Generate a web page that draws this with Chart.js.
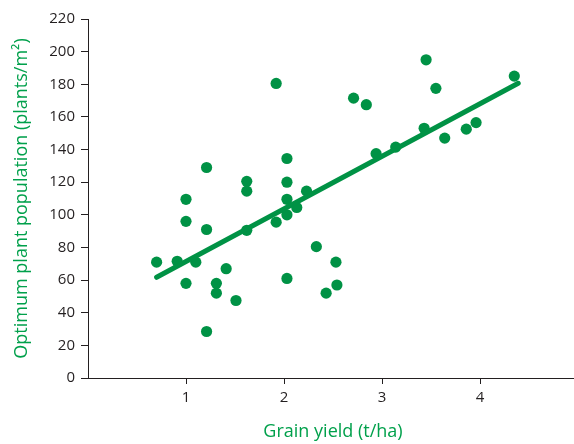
<!DOCTYPE html>
<html>
<head>
<meta charset="utf-8">
<script src="https://cdn.jsdelivr.net/npm/chart.js@4/dist/chart.umd.min.js"></script>
<style>
  html, body { margin: 0; padding: 0; background: #fff; overflow: hidden; }
  #wrap { width: 574px; height: 444px; overflow: hidden; }
</style>
</head>
<body>
<div id="wrap"><canvas id="scatter" width="600" height="444"></canvas></div>
<script>
// grain yield (t/ha) and optimum plant population (plants/m2)
const yieldValues = [0.70, 0.91, 1.10, 1.00, 1.00, 1.00, 1.21, 1.21, 1.41, 1.31,
  1.31, 1.51, 1.21, 1.62, 1.62, 1.62, 1.92, 2.71, 2.03, 2.03,
  2.23, 2.03, 2.13, 2.03, 1.92, 2.33, 2.53, 2.03, 2.54, 2.43,
  2.84, 3.45, 3.55, 4.35, 2.94, 3.14, 3.43, 3.64, 3.86, 3.96];
const populationValues = [71, 71.5, 71, 58, 109.5, 96, 129, 91, 67, 58,
  52, 47.5, 28.5, 120.5, 114.5, 90.5, 180.5, 171.5, 134.5, 120,
  114.5, 109.5, 104.5, 100, 95.5, 80.5, 71, 61, 57, 52,
  167.5, 195, 177.5, 185, 137.5, 141.5, 153, 147, 152.5, 156.5];

// fitted line end points
const trendX = [0.70, 4.39];
const trendY = [61.7, 180.6];

const xTickValues = [1, 2, 3, 4, 5];
const yTickValues = [0, 20, 40, 60, 80, 100, 120, 140, 160, 180, 200, 220];

const green = '#009245';
const dark = '#231f20';

const points = yieldValues.map((x, i) => ({ x: x, y: populationValues[i] }));
const trend = trendX.map((x, i) => ({ x: x, y: trendY[i] }));

new Chart(document.getElementById('scatter').getContext('2d'), {
  type: 'scatter',
  data: {
    datasets: [
      {
        type: 'line',
        data: trend,
        borderColor: green,
        borderWidth: 5,
        borderCapStyle: 'round',
        pointRadius: 0,
        fill: false
      },
      {
        data: points,
        backgroundColor: green,
        borderWidth: 0,
        pointRadius: 5.6
      }
    ]
  },
  options: {
    responsive: false,
    animation: false,
    layout: { padding: { top: 19, right: 22, bottom: 0, left: 0 } },
    plugins: {
      legend: { display: false },
      tooltip: { enabled: false }
    },
    scales: {
      x: {
        type: 'linear',
        min: 0,
        max: 5,
        afterBuildTicks: (scale) => { scale.ticks = xTickValues.map(v => ({ value: v })); },
        afterFit: (scale) => { scale.height = 66; },
        border: { display: true, color: dark, width: 1 },
        grid: { drawOnChartArea: false, color: dark, tickLength: 6 },
        ticks: { color: dark, padding: 5, font: { family: 'Open Sans', size: 15 } },
        title: {
          display: true,
          text: 'Grain yield (t/ha)',
          color: '#00a04b',
          padding: { top: 0, bottom: 1 },
          font: { family: 'Open Sans', size: 18 }
        }
      },
      y: {
        type: 'linear',
        min: 0,
        max: 220,
        afterBuildTicks: (scale) => { scale.ticks = yTickValues.map(v => ({ value: v })); },
        afterFit: (scale) => { scale.width = 88; },
        border: { display: true, color: dark, width: 1 },
        grid: { drawOnChartArea: false, color: dark, tickLength: 7 },
        ticks: { color: dark, padding: 6, font: { family: 'Open Sans', size: 15 } },
        title: {
          display: true,
          text: 'Optimum plant population (plants/m²)',
          color: '#00a04b',
          padding: { top: 11, bottom: 0 },
          font: { family: 'Open Sans', size: 18 }
        }
      }
    }
  }
});
</script>
</body>
</html>
